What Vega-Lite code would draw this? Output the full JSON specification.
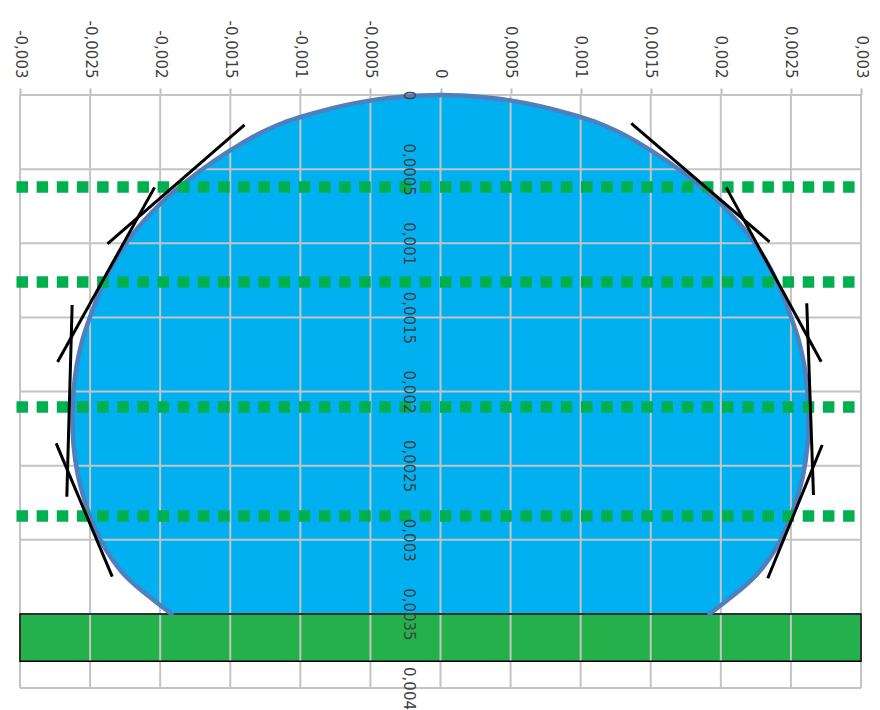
{
  "$schema": "https://vega.github.io/schema/vega-lite/v6.json",
  "width": 841,
  "height": 593,
  "autosize": {"type": "none"},
  "padding": {"left": 20, "top": 95, "right": 19, "bottom": 22},
  "background": "white",
  "config": {"view": {"stroke": null}, "font": "DejaVu Sans"},
  "datasets": {
    "profile": [
      {"d": 0, "xl": 0, "xr": 0},
      {"d": 0.000005, "xl": -0.000183, "xr": 0.000183},
      {"d": 0.00002, "xl": -0.000366, "xr": 0.000366},
      {"d": 0.00004, "xl": -0.000518, "xr": 0.000518},
      {"d": 0.00007, "xl": -0.000685, "xr": 0.000685},
      {"d": 0.0001, "xl": -0.000819, "xr": 0.000819},
      {"d": 0.00014, "xl": -0.000968, "xr": 0.000968},
      {"d": 0.000189, "xl": -0.001125, "xr": 0.001125},
      {"d": 0.00024, "xl": -0.001249, "xr": 0.001249},
      {"d": 0.00029, "xl": -0.001352, "xr": 0.001352},
      {"d": 0.00034, "xl": -0.001442, "xr": 0.001442},
      {"d": 0.000384, "xl": -0.001517, "xr": 0.001517},
      {"d": 0.000479, "xl": -0.001667, "xr": 0.001667},
      {"d": 0.000573, "xl": -0.0018, "xr": 0.0018},
      {"d": 0.000648, "xl": -0.001898, "xr": 0.001898},
      {"d": 0.000742, "xl": -0.002008, "xr": 0.002008},
      {"d": 0.000843, "xl": -0.002111, "xr": 0.002111},
      {"d": 0.000944, "xl": -0.0022, "xr": 0.0022},
      {"d": 0.001046, "xl": -0.002276, "xr": 0.002276},
      {"d": 0.00118, "xl": -0.002359, "xr": 0.002359},
      {"d": 0.001363, "xl": -0.002447, "xr": 0.002447},
      {"d": 0.001518, "xl": -0.002508, "xr": 0.002508},
      {"d": 0.001653, "xl": -0.002555, "xr": 0.002555},
      {"d": 0.001821, "xl": -0.002595, "xr": 0.002595},
      {"d": 0.00199, "xl": -0.002617, "xr": 0.002617},
      {"d": 0.002192, "xl": -0.002625, "xr": 0.002625},
      {"d": 0.002361, "xl": -0.002618, "xr": 0.002618},
      {"d": 0.00255, "xl": -0.00259, "xr": 0.00259},
      {"d": 0.002732, "xl": -0.00254, "xr": 0.00254},
      {"d": 0.002847, "xl": -0.002497, "xr": 0.002497},
      {"d": 0.003002, "xl": -0.002426, "xr": 0.002426},
      {"d": 0.003116, "xl": -0.002354, "xr": 0.002354},
      {"d": 0.003238, "xl": -0.002254, "xr": 0.002254},
      {"d": 0.003319, "xl": -0.002162, "xr": 0.002162},
      {"d": 0.003406, "xl": -0.002048, "xr": 0.002048},
      {"d": 0.0035, "xl": -0.001919, "xr": 0.001919}
    ],
    "substrate": [{"x1": -0.003, "x2": 0.003, "y1": 0.0035, "y2": 0.00382}],
    "gridx": [
      {"v": -0.003}, {"v": -0.0025}, {"v": -0.002}, {"v": -0.0015}, {"v": -0.001}, {"v": -0.0005}, {"v": 0},
      {"v": 0.0005}, {"v": 0.001}, {"v": 0.0015}, {"v": 0.002}, {"v": 0.0025}, {"v": 0.003}
    ],
    "gridy": [
      {"v": 0}, {"v": 0.0005}, {"v": 0.001}, {"v": 0.0015}, {"v": 0.002}, {"v": 0.0025}, {"v": 0.003}, {"v": 0.0035}, {"v": 0.004}
    ],
    "levels": [
      {"y": 0.000621, "x1": -0.003025, "x2": 0.00296},
      {"y": 0.001261, "x1": -0.003025, "x2": 0.00296},
      {"y": 0.002105, "x1": -0.003025, "x2": 0.00296},
      {"y": 0.00284, "x1": -0.003025, "x2": 0.00296}
    ],
    "tangents": [
      {"x1": -0.001398, "y1": 0.000202, "x2": -0.002376, "y2": 0.001005},
      {"x1": -0.00204, "y1": 0.000623, "x2": -0.002732, "y2": 0.001801},
      {"x1": -0.002628, "y1": 0.001417, "x2": -0.002666, "y2": 0.00271},
      {"x1": -0.002742, "y1": 0.00235, "x2": -0.002342, "y2": 0.003249},
      {"x1": 0.001361, "y1": 0.000191, "x2": 0.002347, "y2": 0.00099},
      {"x1": 0.002038, "y1": 0.000623, "x2": 0.002716, "y2": 0.001799},
      {"x1": 0.002613, "y1": 0.001405, "x2": 0.002661, "y2": 0.002698},
      {"x1": 0.002723, "y1": 0.002361, "x2": 0.002335, "y2": 0.00326}
    ]
  },
  "layer": [
    {
      "data": {"name": "profile"},
      "mark": {"type": "area", "orient": "horizontal", "color": "#00b0f0", "interpolate": "catmull-rom"},
      "encoding": {
        "y": {
          "field": "d", "type": "quantitative", "title": null,
          "scale": {"domain": [0, 0.004], "reverse": true, "nice": false, "zero": false},
          "axis": {
            "orient": "left", "offset": -388, "domain": false, "ticks": false, "tickSize": 0, "grid": false,
            "zindex": 1,
            "values": [0, 0.0005, 0.001, 0.0015, 0.002, 0.0025, 0.003, 0.0035, 0.004],
            "labelAngle": 90, "labelAlign": "center", "labelBaseline": "middle", "labelPadding": 0,
            "labelFontSize": 15, "labelColor": "#404040", "labelFont": "DejaVu Sans",
            "labelOverlap": false, "labelFlush": false,
            "labelExpr": "replace(toString(datum.value), '.', ',')"
          }
        },
        "x": {
          "field": "xr", "type": "quantitative", "title": null,
          "scale": {"domain": [-0.003, 0.003], "nice": false, "zero": false},
          "axis": {
            "orient": "top", "domain": false, "grid": false, "ticks": true, "tickSize": 7,
            "tickColor": "#bfbfbf", "tickWidth": 2,
            "values": [-0.003, -0.0025, -0.002, -0.0015, -0.001, -0.0005, 0, 0.0005, 0.001, 0.0015, 0.002, 0.0025, 0.003],
            "labelAngle": 90, "labelAlign": "right", "labelBaseline": "middle", "labelPadding": 10,
            "labelFontSize": 15, "labelColor": "#404040", "labelFont": "DejaVu Sans",
            "labelOverlap": false, "labelFlush": false,
            "labelExpr": "replace(toString(datum.value), '.', ',')"
          }
        },
        "x2": {"field": "xl"}
      }
    },
    {
      "data": {"name": "substrate"},
      "mark": {"type": "rect", "color": "#24b14c"},
      "encoding": {
        "x": {"field": "x1", "type": "quantitative", "title": null},
        "x2": {"field": "x2"},
        "y": {"field": "y1", "type": "quantitative", "title": null},
        "y2": {"field": "y2"}
      }
    },
    {
      "data": {"name": "gridx"},
      "mark": {"type": "rule", "color": "#c4c4c4", "strokeWidth": 2},
      "encoding": {"x": {"field": "v", "type": "quantitative", "title": null}}
    },
    {
      "data": {"name": "gridy"},
      "mark": {"type": "rule", "color": "#c4c4c4", "strokeWidth": 2},
      "encoding": {"y": {"field": "v", "type": "quantitative", "title": null}}
    },
    {
      "data": {"name": "substrate"},
      "mark": {"type": "rect", "fill": null, "fillOpacity": 0, "stroke": "#000000", "strokeWidth": 1.5},
      "encoding": {
        "x": {"field": "x1", "type": "quantitative", "title": null},
        "x2": {"field": "x2"},
        "y": {"field": "y1", "type": "quantitative", "title": null},
        "y2": {"field": "y2"}
      }
    },
    {
      "data": {"name": "profile"},
      "transform": [{"fold": ["xl", "xr"], "as": ["side", "x"]}],
      "mark": {"type": "line", "color": "#4f7fbd", "strokeWidth": 4.5, "strokeCap": "round", "strokeJoin": "round", "interpolate": "catmull-rom"},
      "encoding": {
        "x": {"field": "x", "type": "quantitative", "title": null},
        "y": {"field": "d", "type": "quantitative", "title": null},
        "detail": {"field": "side"},
        "order": {"field": "d", "type": "quantitative"}
      }
    },
    {
      "data": {"name": "levels"},
      "mark": {"type": "rule", "color": "#00b050", "strokeWidth": 11.5, "strokeDash": [11.5, 8.66]},
      "encoding": {
        "x": {"field": "x1", "type": "quantitative", "title": null},
        "x2": {"field": "x2"},
        "y": {"field": "y", "type": "quantitative", "title": null}
      }
    },
    {
      "data": {"name": "tangents"},
      "mark": {"type": "rule", "color": "#000000", "strokeWidth": 3},
      "encoding": {
        "x": {"field": "x1", "type": "quantitative", "title": null},
        "x2": {"field": "x2"},
        "y": {"field": "y1", "type": "quantitative", "title": null},
        "y2": {"field": "y2"}
      }
    }
  ]
}
